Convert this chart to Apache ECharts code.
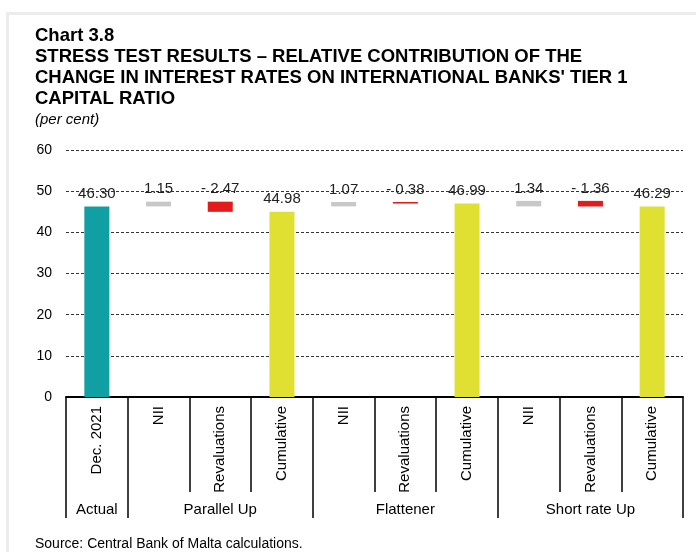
<!DOCTYPE html>
<html>
<head>
<meta charset="utf-8">
<script src="https://cdn.jsdelivr.net/npm/echarts@6/dist/echarts.min.js"></script>
<style>
html,body{margin:0;padding:0;background:#fff;}
#c{width:696px;height:552px;}
</style>
</head>
<body>
<div id="c"></div>
<script>
// ---- data ----
const categories = ['Dec. 2021','NII','Revaluations','Cumulative','NII','Revaluations','Cumulative','NII','Revaluations','Cumulative'];
const groups = ['Actual','Parallel Up','Flattener','Short rate Up'];
const groupSizes = [1,3,3,3];
const actual = 46.30;
const nii = [1.15, 1.07, 1.34];
const revaluations = [-2.47, -0.38, -1.36];
const cumulative = [44.98, 46.99, 46.29];
const yTicks = [0,10,20,30,40,50,60];

// ---- build waterfall ----
const colActual = '#10A0A3', colNII = '#C8C8C8', colRev = '#E21B1B', colCum = '#E0E032';
const base = [0], vis = [{value: actual, itemStyle:{color: colActual}, lbl: actual.toFixed(2)}];
for (let i = 0; i < 3; i++) {
  const top1 = actual + nii[i];
  base.push(actual);
  vis.push({value: nii[i], itemStyle:{color: colNII}, lbl: nii[i].toFixed(2)});
  const bottom = top1 + revaluations[i];
  base.push(bottom);
  vis.push({value: -revaluations[i], itemStyle:{color: colRev}, lbl: '- ' + Math.abs(revaluations[i]).toFixed(2)});
  base.push(0);
  vis.push({value: cumulative[i], itemStyle:{color: colCum}, lbl: cumulative[i].toFixed(2)});
}
const groupLabelAt = [];
const boundaries = [];
let pos = 0;
groups.forEach((g, gi) => {
  boundaries.push(pos);
  const mid = pos + Math.floor((groupSizes[gi]) / 2);
  for (let k = 0; k < groupSizes[gi]; k++) groupLabelAt.push(pos + k === mid ? g : '');
  pos += groupSizes[gi];
});

const chart = echarts.init(document.getElementById('c'), null, {renderer: 'canvas'});
const F = 'Liberation Sans, Arial, sans-serif';
chart.setOption({
  animation: false,
  backgroundColor: '#fff',
  textStyle: {fontFamily: F},
  title: [
    {
      text: 'Chart 3.8\nSTRESS TEST RESULTS \u2013 RELATIVE CONTRIBUTION OF THE\nCHANGE IN INTEREST RATES ON INTERNATIONAL BANKS\' TIER 1\nCAPITAL RATIO',
      left: 35, top: 25, padding: 0,
      textStyle: {fontFamily: F, fontSize: 18.5, fontWeight: 'bold', color: '#000', lineHeight: 21}
    },
    {
      text: '(per cent)', left: 35, top: 111, padding: 0,
      textStyle: {fontFamily: F, fontSize: 15, fontStyle: 'italic', fontWeight: 'normal', color: '#000', lineHeight: 18}
    },
    {
      text: 'Source: Central Bank of Malta calculations.', left: 35, top: 536, padding: 0,
      textStyle: {fontFamily: F, fontSize: 14, fontWeight: 'normal', color: '#000', lineHeight: 16}
    }
  ],
  graphic: [{
    type: 'rect', silent: true, z: -10,
    shape: {x: 7.5, y: 13.5, width: 800, height: 800},
    style: {fill: 'none', stroke: '#ececec', lineWidth: 3}
  }],
  grid: {left: 66, right: 13, top: 150, bottom: 155, containLabel: false, outerBoundsMode: 'none'},
  xAxis: [
    {
      type: 'category', data: categories, position: 'bottom',
      axisLine: {show: true, lineStyle: {color: '#000', width: 2}},
      axisTick: {show: true, interval: 0, length: 95, lineStyle: {color: '#000', width: 1.5}},
      axisLabel: {interval: 0, rotate: 90, margin: 9, fontSize: 15, color: '#000', fontFamily: F},
      splitLine: {show: false}
    },
    {
      type: 'category', data: categories, position: 'bottom',
      axisLine: {show: false},
      axisTick: {show: true, interval: function (idx) { return boundaries.indexOf(idx) >= 0; }, length: 121, lineStyle: {color: '#000', width: 1.5}},
      axisLabel: {interval: 0, margin: 105, fontSize: 15, color: '#000', fontFamily: F,
        formatter: function (v, i) { return groupLabelAt[i]; }},
      splitLine: {show: false}
    }
  ],
  yAxis: {
    type: 'value', min: yTicks[0], max: yTicks[yTicks.length - 1], interval: 10,
    axisLine: {show: false}, axisTick: {show: false},
    axisLabel: {margin: 14, fontSize: 14, color: '#000', fontFamily: F},
    splitLine: {show: true, lineStyle: {color: '#333', type: [3, 2], width: 1}}
  },
  series: [
    {
      type: 'bar', stack: 'w', xAxisIndex: 0, barWidth: 25,
      itemStyle: {color: 'transparent'}, emphasis: {disabled: true},
      data: base, silent: true
    },
    {
      type: 'bar', stack: 'w', xAxisIndex: 0, barWidth: 25,
      data: vis.map(d => ({value: d.value, itemStyle: d.itemStyle})),
      label: {show: true, position: 'top', distance: 5, fontSize: 15, color: '#222', fontFamily: F,
        formatter: function (p) { return vis[p.dataIndex].lbl; }}
    }
  ]
});
</script>
</body>
</html>
